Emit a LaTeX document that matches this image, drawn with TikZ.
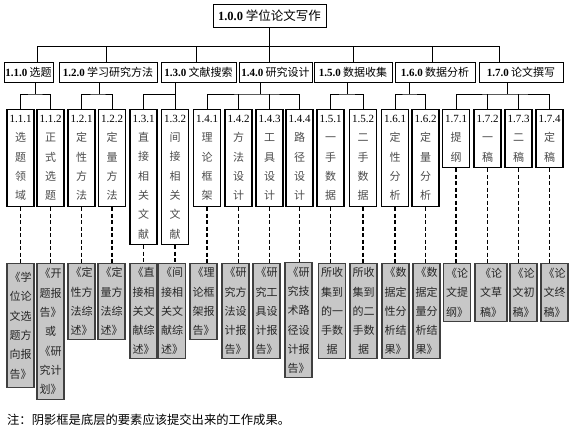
\documentclass[tikz,border=0pt]{standalone}
\usepackage{fontspec}
\setmainfont{Liberation Serif}
\newfontfamily\cjk{Noto Sans CJK SC}
\newcommand\numlab[1]{{\rmfamily\color{black}#1}}
\begin{document}
\begin{tikzpicture}[x=1pt,y=-1pt,
  l0/.style={draw, line width=1pt, inner sep=0pt, minimum height=23, font=\cjk\fontsize{12.5}{14}\selectfont},
  l1/.style={draw, line width=1pt, inner sep=0pt, minimum height=20, font=\cjk\fontsize{11}{13}\selectfont},
  leaf/.style={draw, line width=1.1pt, inner sep=0pt, anchor=north, minimum width=27, align=center, font=\cjk\fontsize{11}{19.3}\selectfont, text=black!70},
  outc/.style={draw=black!75, fill=black!22, line width=1.4pt, inner sep=0pt, anchor=north, minimum width=27, align=center, font=\cjk\fontsize{11}{19.3}\selectfont, text=black!85},
  link/.style={line width=1pt},
  dlink/.style={line width=1.1pt, dash pattern=on 4pt off 2.5pt},
]
\useasboundingbox (0,0) rectangle (570,431);

% root
\node[l0, minimum width=113] (root) at (269.5,15.5) {\numlab{\bfseries 1.0.0} 学位论文写作};

% level 1
\node[l1, minimum width=49] (l11) at (28.5,72) {\numlab{\bfseries 1.1.0} 选题};
\node[l1, minimum width=98] (l12) at (108,72) {\numlab{\bfseries 1.2.0} 学习研究方法};
\node[l1, minimum width=75] (l13) at (198.5,72) {\numlab{\bfseries 1.3.0} 文献搜索};
\node[l1, minimum width=73] (l14) at (275.5,72) {\numlab{\bfseries 1.4.0} 研究设计};
\node[l1, minimum width=78] (l15) at (353,72) {\numlab{\bfseries 1.5.0} 数据收集};
\node[l1, minimum width=80] (l16) at (435,72) {\numlab{\bfseries 1.6.0} 数据分析};
\node[l1, minimum width=84] (l17) at (521,72) {\numlab{\bfseries 1.7.0} 论文撰写};

% level 2
\node[leaf, minimum height=97] (c111) at (20.5,109) {\numlab{1.1.1}\\选\\题\\领\\域};
\node[leaf, minimum height=97] (c112) at (50.5,109) {\numlab{1.1.2}\\正\\式\\选\\题};
\node[leaf, minimum height=97] (c121) at (81.5,109) {\numlab{1.2.1}\\定\\性\\方\\法};
\node[leaf, minimum height=97] (c122) at (112,109) {\numlab{1.2.2}\\定\\量\\方\\法};
\node[leaf, minimum height=135] (c131) at (143.5,109) {\numlab{1.3.1}\\直\\接\\相\\关\\文\\献};
\node[leaf, minimum height=135] (c132) at (175,109) {\numlab{1.3.2}\\间\\接\\相\\关\\文\\献};
\node[leaf, minimum height=97] (c141) at (207,109) {\numlab{1.4.1}\\理\\论\\框\\架};
\node[leaf, minimum height=97] (c142) at (238.5,109) {\numlab{1.4.2}\\方\\法\\设\\计};
\node[leaf, minimum height=97] (c143) at (269.5,109) {\numlab{1.4.3}\\工\\具\\设\\计};
\node[leaf, minimum height=97] (c144) at (299.5,109) {\numlab{1.4.4}\\路\\径\\设\\计};
\node[leaf, minimum height=97] (c151) at (330.5,109) {\numlab{1.5.1}\\一\\手\\数\\据};
\node[leaf, minimum height=97] (c152) at (363,109) {\numlab{1.5.2}\\二\\手\\数\\据};
\node[leaf, minimum height=97] (c161) at (395,109) {\numlab{1.6.1}\\定\\性\\分\\析};
\node[leaf, minimum height=97] (c162) at (425.5,109) {\numlab{1.6.2}\\定\\量\\分\\析};
\node[leaf, minimum height=58] (c171) at (456,109) {\numlab{1.7.1}\\提\\纲};
\node[leaf, minimum height=58] (c172) at (487.5,109) {\numlab{1.7.2}\\一\\稿};
\node[leaf, minimum height=58] (c173) at (518.5,109) {\numlab{1.7.3}\\二\\稿};
\node[leaf, minimum height=58] (c174) at (549.5,109) {\numlab{1.7.4}\\定\\稿};

% deliverables
\node[outc, minimum height=124] (s111) at (20.5,263) {《学\\位论\\文选\\题方\\向报\\告》};
\node[outc, minimum height=136] (s112) at (50.5,263) {《开\\题报\\告》\\或\\《研\\究计\\划》};
\node[outc, minimum height=76] (s121) at (81.5,263) {《定\\性方\\法综\\述》};
\node[outc, minimum height=76] (s122) at (111.5,263) {《定\\量方\\法综\\述》};
\node[outc, minimum height=95] (s131) at (143.5,263) {《直\\接相\\关文\\献综\\述》};
\node[outc, minimum height=95] (s132) at (172,263) {《间\\接相\\关文\\献综\\述》};
\node[outc, minimum height=76] (s141) at (203.5,263) {《理\\论框\\架报\\告》};
\node[outc, minimum height=95] (s142) at (235.5,263) {《研\\究方\\法设\\计报\\告》};
\node[outc, minimum height=95] (s143) at (266.5,263) {《研\\究工\\具设\\计报\\告》};
\node[outc, minimum height=115] (s144) at (298.5,262) {《研\\究技\\术路\\径设\\计报\\告》};
\node[outc, minimum height=95] (s151) at (332,263) {所收\\集到\\的一\\手数\\据};
\node[outc, minimum height=95] (s152) at (363.5,263) {所收\\集到\\的二\\手数\\据};
\node[outc, minimum height=95] (s161) at (395.5,263) {《数\\据定\\性分\\析结\\果》};
\node[outc, minimum height=95] (s162) at (426.5,263) {《数\\据定\\量分\\析结\\果》};
\node[outc, minimum height=58] (s171) at (457,263) {《论\\文提\\纲》};
\node[outc, minimum height=58, minimum width=32] (s172) at (491,263) {《论\\文草\\稿》};
\node[outc, minimum height=58] (s173) at (523.5,263) {《论\\文初\\稿》};
\node[outc, minimum height=58] (s174) at (554.5,263) {《论\\文终\\稿》};

% note
\node[anchor=west, inner sep=0pt, font=\cjk\fontsize{12.3}{14}\selectfont] (note) at (7,420) {注：阴影框是底层的要素应该提交出来的工作成果。};

% top bus
\coordinate (t1) at (37,46);
\coordinate (t2) at (106,46);
\coordinate (t3) at (196,46);
\coordinate (t5) at (353,46);
\coordinate (t6) at (432,46);
\coordinate (t7) at (499,46);
\draw[link] (root.south) -- (root.south |- l14.north);
\draw[link] (t1) -- (t7);
\draw[link] (l11.north -| t1) -- (t1);
\draw[link] (l12.north -| t2) -- (t2);
\draw[link] (l13.north -| t3) -- (t3);
\draw[link] (l15.north -| t5) -- (t5);
\draw[link] (l16.north -| t6) -- (t6);
\draw[link] (l17.north -| t7) -- (t7);

% level-2 buses
\coordinate (j1) at (35,94);
\coordinate (j2) at (99,94);
\coordinate (j3) at (175,94);
\coordinate (j4) at (260,94);
\coordinate (j5) at (347,94);
\coordinate (j6) at (409,94);
\coordinate (j7) at (507,94);
\draw[link] (l11.south -| j1) -- (j1);
\draw[link] (l12.south -| j2) -- (j2);
\draw[link] (l13.south -| j3) -- (j3);
\draw[link] (l14.south -| j4) -- (j4);
\draw[link] (l15.south -| j5) -- (j5);
\draw[link] (l16.south -| j6) -- (j6);
\draw[link] (l17.south -| j7) -- (j7);

\draw[link] (c111.north) |- (j1) -| (c112.north);
\draw[link] (c121.north) |- (j2) -| (c122.north);
\draw[link] (c131.north) |- (j3) -| (c132.north);
\draw[link] (c141.north) |- (j4) -| (c144.north);
\draw[link] (c142.north) -- (c142.north |- j4);
\draw[link] (c143.north) -- (c143.north |- j4);
\draw[link] (c151.north) |- (j5) -| (c152.north);
\draw[link] (c161.north) |- (j6) -| (c162.north);
\draw[link] (c171.north) |- (j7) -| (c174.north);
\draw[link] (c172.north) -- (c172.north |- j7);
\draw[link] (c173.north) -- (c173.north |- j7);

% dashed links to deliverables
\foreach \n in {111,112,121,122,131,132,141,142,143,144,151,152,161,162,171,172,173,174}{
  \draw[dlink] (c\n.south) -- (c\n.south |- s\n.north);
}
\end{tikzpicture}
\end{document}
